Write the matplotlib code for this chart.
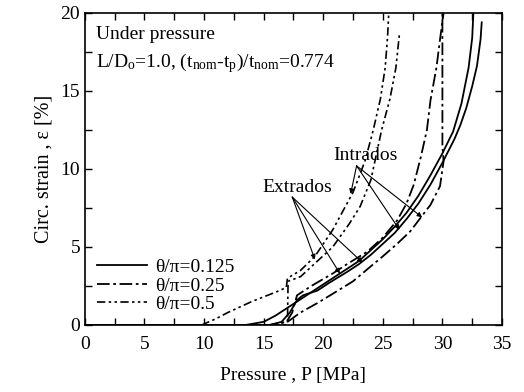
import matplotlib
matplotlib.use("Agg")
import matplotlib.pyplot as plt
from matplotlib.ticker import MultipleLocator

plt.rcParams["font.family"] = ["Liberation Serif", "DejaVu Serif"]
plt.rcParams["mathtext.fontset"] = "custom"
plt.rcParams["mathtext.rm"] = "Liberation Serif"
plt.rcParams["mathtext.it"] = "Liberation Serif:italic"

# theta/pi = 0.125 (solid)
p125_a = [0, 13.5, 15, 16, 17, 18, 19, 20, 21, 22, 23, 24, 25, 26, 27, 28, 29, 30, 30.9, 31.6, 32.2, 32.5, 32.6]
e125_a = [0, 0, 0.2, 0.6, 1.1, 1.6, 2.1, 2.6, 3.1, 3.6, 4.1, 4.8, 5.5, 6.3, 7.2, 8.3, 9.6, 11.0, 12.4, 14.2, 16.5, 18.4, 20]
p125_b = [0, 15.5, 16.5, 17.2, 17.8, 18.3, 19.5, 20.5, 22, 23, 24, 25, 26, 27, 28, 29, 30, 31, 31.5, 32, 32.5, 32.9, 33.2, 33.3]
e125_b = [0, 0, 0.2, 0.8, 1.6, 1.9, 2.2, 2.7, 3.4, 3.9, 4.5, 5.2, 5.9, 6.8, 7.8, 9.0, 10.4, 11.9, 12.8, 13.9, 15.3, 16.6, 18.3, 19.4]

# theta/pi = 0.25 (dash-dot)
p25_a = [0, 16.2, 17, 17.4, 17.8, 19, 20.8, 22, 23.7, 25, 26.2, 27, 27.6, 28.2, 28.7, 29.0, 29.5, 29.8, 30.1]
e25_a = [0, 0, 0.3, 0.8, 1.9, 2.5, 3.3, 3.9, 4.7, 5.6, 6.7, 7.8, 9.0, 10.8, 12.5, 14.4, 16.5, 18.3, 20]
p25_b = [0, 15.5, 17, 18.1, 19.5, 20.8, 22.5, 23.9, 25, 26.2, 27.3, 28.2, 29, 29.8, 30.1, 30.0, 30.0]
e25_b = [0, 0, 0.2, 0.8, 1.4, 2.0, 2.8, 3.7, 4.4, 5.2, 6.0, 6.9, 7.7, 8.9, 10.5, 11.5, 20]

# theta/pi = 0.5 (dash-dot-dot)
p50_a = [0, 9.8, 11, 12, 13, 14, 15, 16, 16.9, 17.0, 18.1, 19.3, 20.8, 22.5, 23.5, 24.2, 24.8, 25.2, 25.4, 25.5]
e50_a = [0, 0, 0.4, 0.8, 1.15, 1.5, 1.8, 2.1, 2.4, 3.0, 3.5, 4.4, 6.1, 8.5, 10.5, 12.5, 14.5, 16.5, 18.5, 20]
p50_b = [0, 16.9, 17.0, 17.05, 18.1, 20.8, 22.2, 23.1, 24.0, 24.9, 25.6, 26.1, 26.4]
e50_b = [0, 0, 0.2, 2.8, 3.1, 5.0, 6.5, 7.6, 9.3, 12.5, 14.5, 16.5, 18.7]

labels = ["θ/π=0.125", "θ/π=0.25", "θ/π=0.5"]

# annotation anchors (text position, arrow heads)
intrados_text = (20.8, 10.6)
intrados_tail = (22.8, 10.2)
intrados_heads = [(22.3, 8.4), (26.4, 6.1), (28.3, 6.9)]
extrados_text = (14.9, 8.5)
extrados_tail = (17.4, 8.2)
extrados_heads = [(19.3, 4.2), (21.4, 3.3), (23.3, 4.0)]

dash_dot = (0, (7, 2, 1.5, 2))
dash_dot_dot = (0, (5, 2, 1.5, 2, 1.5, 2))

fig = plt.figure(figsize=(5.24, 3.92), dpi=100)
ax = fig.add_axes([0.162, 0.171, 0.796, 0.796])

ax.plot(p125_a, e125_a, color="black", lw=1.3, ls="-", label=labels[0])
ax.plot(p125_b, e125_b, color="black", lw=1.3, ls="-")
ax.plot(p25_a, e25_a, color="black", lw=1.3, ls=dash_dot, label=labels[1])
ax.plot(p25_b, e25_b, color="black", lw=1.3, ls=dash_dot)
ax.plot(p50_a, e50_a, color="black", lw=1.2, ls=dash_dot_dot, label=labels[2])
ax.plot(p50_b, e50_b, color="black", lw=1.2, ls=dash_dot_dot)

ax.set_xlim(0, 35)
ax.set_ylim(0, 20)
ax.xaxis.set_major_locator(MultipleLocator(5))
ax.xaxis.set_minor_locator(MultipleLocator(2.5))
ax.yaxis.set_major_locator(MultipleLocator(5))
ax.yaxis.set_minor_locator(MultipleLocator(2.5))
ax.tick_params(which="both", direction="in", top=True, right=True, labelsize=14)
ax.tick_params(which="major", length=5, width=1)
ax.tick_params(which="minor", length=5, width=1)
ax.tick_params(axis="x", which="major", pad=8)
for s in ax.spines.values():
    s.set_linewidth(1.2)

ax.set_xlabel("Pressure , P [MPa]", fontsize=14, labelpad=10)
ax.set_ylabel("Circ. strain , ε [%]", fontsize=14.5, labelpad=5)

ax.text(0.9, 18.3, "Under pressure", fontsize=14)
ax.text(0.9, 16.5, r"L/D$_\mathrm{o}$=1.0, (t$_\mathrm{nom}$-t$_\mathrm{p}$)/t$_\mathrm{nom}$=0.774",
        fontsize=14)

arrow = dict(arrowstyle="-|>", color="black", lw=0.8, mutation_scale=7, shrinkA=0, shrinkB=0)
ax.text(*intrados_text, "Intrados", fontsize=14)
for head in intrados_heads:
    ax.annotate("", xy=head, xytext=intrados_tail, arrowprops=arrow)
ax.text(*extrados_text, "Extrados", fontsize=14)
for head in extrados_heads:
    ax.annotate("", xy=head, xytext=extrados_tail, arrowprops=arrow)

ax.legend(loc="lower left", bbox_to_anchor=(0.0, 0.0), frameon=False, fontsize=14,
          handlelength=2.6, handletextpad=0.4, labelspacing=0.05, borderaxespad=0.2)

fig.savefig("out.png", dpi=100)
